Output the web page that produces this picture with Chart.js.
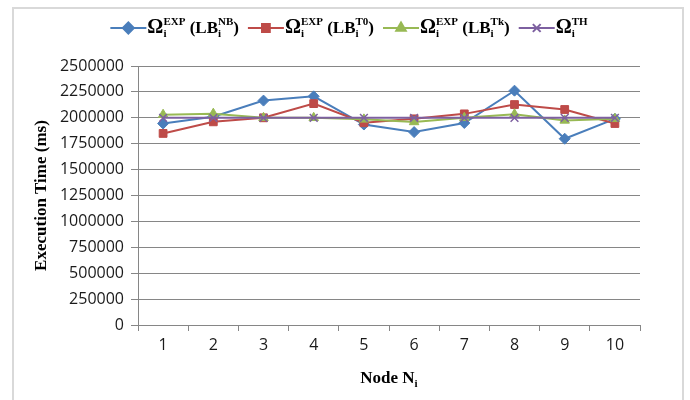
<!DOCTYPE html>
<html>
<head>
<meta charset="utf-8">
<script src="https://cdn.jsdelivr.net/npm/chart.js@4/dist/chart.umd.min.js"></script>
<style>
  html, body { margin: 0; padding: 0; background: #fff; }
  #wrap { width: 690px; height: 400px; position: relative; }
</style>
</head>
<body>
<div id="wrap"><canvas id="execChart" width="690" height="400"></canvas></div>
<script>
// node numbers along the x axis
const nodes = ['1', '2', '3', '4', '5', '6', '7', '8', '9', '10'];

// execution time (ms) per node
const expNB = [1945000, 2010000, 2166000, 2207000, 1935000, 1862000, 1950000, 2262000, 1798000, 1990000];
const expT0 = [1849000, 1961000, 2000000, 2137000, 1952000, 1990000, 2038000, 2128000, 2080000, 1945000];
const expTk = [2030000, 2040000, 2000000, 2000000, 1985000, 1960000, 2000000, 2035000, 1975000, 1990000];
const theory = [2000000, 2000000, 2000000, 2000000, 2000000, 2000000, 2000000, 2000000, 2000000, 2000000];

const yMax = 2500000;
const yStep = 250000;

const SERIF = '"Liberation Serif", "Times New Roman", serif';
const SANS = '"Open Sans", "Liberation Sans", sans-serif';

// legend entries as rich text pieces: [text, kind] kind: n = normal, b = big, sub, sup
const legendItems = [
  { color: '#4a7ebb', marker: 'rectRot', text: [['Ω', 'b'], ['i', 'sub'], ['EXP', 'sup'], [' (LB', 'n'], ['i', 'sub'], ['NB', 'sup'], [')', 'n']] },
  { color: '#be4b48', marker: 'rect', text: [['Ω', 'b'], ['i', 'sub'], ['EXP', 'sup'], [' (LB', 'n'], ['i', 'sub'], ['T0', 'sup'], [')', 'n']] },
  { color: '#98b954', marker: 'triangle', text: [['Ω', 'b'], ['i', 'sub'], ['EXP', 'sup'], [' (LB', 'n'], ['i', 'sub'], ['Tk', 'sup'], [')', 'n']] },
  { color: '#7d60a0', marker: 'crossRot', text: [['Ω', 'b'], ['i', 'sub'], ['TH', 'sup']] }
];

const sizes = { n: 17, b: 20, sub: 11, sup: 11 };
const shifts = { n: 0, b: 0, sub: 4, sup: -8 };

function pieceFont(kind) {
  return 'bold ' + sizes[kind] + 'px ' + SERIF;
}

// width of a rich text, with sub and sup sharing the same column
function richWidth(ctx, pieces) {
  let w = 0, subW = 0;
  pieces.forEach(([t, k]) => {
    ctx.font = pieceFont(k);
    const tw = ctx.measureText(t).width;
    if (k === 'sub') { subW = tw; w += tw; }
    else if (k === 'sup') { w += Math.max(0, tw - subW); subW = 0; }
    else { w += tw; subW = 0; }
  });
  return w;
}

function drawRich(ctx, pieces, x, y) {
  let cx = x, subStart = null;
  pieces.forEach(([t, k]) => {
    ctx.font = pieceFont(k);
    const tw = ctx.measureText(t).width;
    if (k === 'sub') {
      subStart = cx;
      ctx.fillText(t, cx, y + shifts[k]);
      cx += tw;
    } else if (k === 'sup') {
      const sx = subStart !== null ? subStart : cx;
      ctx.fillText(t, sx, y + shifts[k]);
      cx = Math.max(cx, sx + tw);
      subStart = null;
    } else {
      ctx.fillText(t, cx, y);
      cx += tw;
      subStart = null;
    }
  });
  return cx;
}

const decorPlugin = {
  id: 'decor',
  beforeDraw(chart) {
    const ctx = chart.ctx;
    ctx.save();
    ctx.strokeStyle = '#d9d9d9';
    ctx.lineWidth = 2;
    ctx.strokeRect(13, 8, 670, 420);
    ctx.restore();
  },
  afterDraw(chart) {
    const ctx = chart.ctx;
    const area = chart.chartArea;
    ctx.save();
    ctx.fillStyle = '#000';
    ctx.textBaseline = 'alphabetic';

    // legend
    const lineLen = 36, gap = 9;
    const widths = legendItems.map(it => lineLen + 1 + richWidth(ctx, it.text));
    const total = widths.reduce((a, b) => a + b, 0) + gap * (legendItems.length - 1);
    let x = 349 - total / 2;
    const ly = 28;
    legendItems.forEach((it, i) => {
      ctx.strokeStyle = it.color;
      ctx.lineWidth = 2;
      ctx.beginPath();
      ctx.moveTo(x, ly);
      ctx.lineTo(x + lineLen, ly);
      ctx.stroke();
      ctx.fillStyle = it.color;
      Chart.helpers.drawPoint(ctx, {
        pointStyle: it.marker, radius: 5.5, rotation: 0, borderWidth: 1.5
      }, x + lineLen / 2, ly);
      ctx.fillStyle = '#000';
      drawRich(ctx, it.text, x + lineLen + 1, ly + 5);
      x += widths[i] + gap;
    });

    // x axis title "Node Ni"
    const title = [['Node N', 'n'], ['i', 'sub']];
    const tw = richWidth(ctx, title);
    drawRich(ctx, title, (area.left + area.right) / 2 - tw / 2, 383);
    ctx.restore();
  }
};

function mkSet(label, data, color, style, radius, order) {
  return {
    label: label,
    data: data,
    borderColor: color,
    backgroundColor: color,
    borderWidth: 2,
    pointStyle: style,
    pointRadius: radius,
    pointBorderWidth: style === 'crossRot' ? 1.5 : 1,
    pointBorderColor: color,
    pointBackgroundColor: color,
    tension: 0,
    order: order
  };
}

new Chart(document.getElementById('execChart'), {
  type: 'line',
  data: {
    labels: nodes,
    datasets: [
      mkSet('ΩiEXP (LBiNB)', expNB, '#4a7ebb', 'rectRot', 5.5, 3),
      mkSet('ΩiEXP (LBiT0)', expT0, '#be4b48', 'rect', 5.5, 2),
      mkSet('ΩiEXP (LBiTk)', expTk, '#98b954', 'triangle', 5.5, 1),
      mkSet('ΩiTH', theory, '#7d60a0', 'crossRot', 5.5, 0)
    ]
  },
  options: {
    responsive: false,
    animation: false,
    events: [],
    layout: { padding: { top: 66, right: 50, left: 31, bottom: 0 } },
    plugins: {
      legend: { display: false },
      tooltip: { enabled: false }
    },
    scales: {
      x: {
        offset: true,
        grid: { offset: true, drawOnChartArea: false, drawTicks: true, tickLength: 6, color: '#868686' },
        border: { color: '#868686', width: 1 },
        ticks: { color: '#1a1a1a', font: { family: SANS, size: 16 }, padding: 5 },
        afterFit(s) { s.height = 75; }
      },
      y: {
        min: 0,
        max: yMax,
        grid: { color: '#868686', tickLength: 7, drawTicks: true },
        border: { color: '#868686', width: 1 },
        ticks: {
          stepSize: yStep,
          color: '#1a1a1a',
          font: { family: SANS, size: 16 },
          padding: 7,
          callback: v => String(v)
        },
        title: {
          display: true,
          text: 'Execution Time (ms)',
          color: '#000',
          font: { family: SERIF, size: 17, weight: 'bold' },
          padding: { top: 0, bottom: 0 }
        },
        afterFit(s) { s.width = 107; }
      }
    }
  },
  plugins: [decorPlugin]
});
</script>
</body>
</html>
